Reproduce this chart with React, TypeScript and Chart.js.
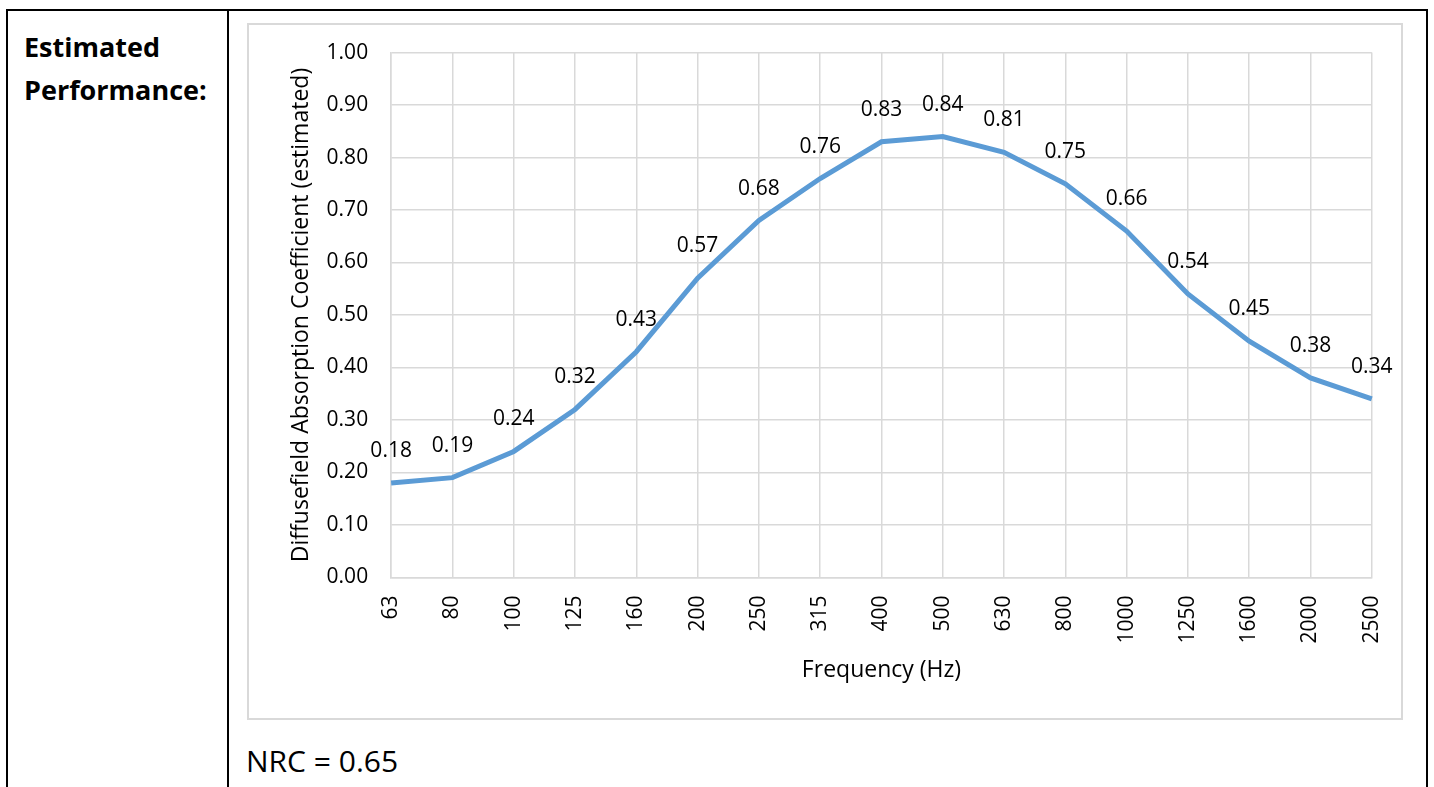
import React, { useEffect, useRef } from "react";
import { Chart, registerables } from "chart.js";

Chart.register(...registerables);

const frequencies = ["63", "80", "100", "125", "160", "200", "250", "315", "400", "500", "630", "800", "1000", "1250", "1600", "2000", "2500"];
const absorption = [0.18, 0.19, 0.24, 0.32, 0.43, 0.57, 0.68, 0.76, 0.83, 0.84, 0.81, 0.75, 0.66, 0.54, 0.45, 0.38, 0.34];
const yTitle = "Diffusefield Absorption Coefficient (estimated)";
const xTitle = "Frequency (Hz)";
const nrcText = "NRC = 0.65";

const FONT = "'Open Sans', 'Noto Sans', sans-serif";

const labelPlugin = {
  id: "pointLabels",
  afterDatasetsDraw(chart: any) {
    const ctx = chart.ctx;
    const meta = chart.getDatasetMeta(0);
    ctx.save();
    ctx.font = `21px ${FONT}`;
    ctx.fillStyle = "#000";
    ctx.textAlign = "center";
    ctx.textBaseline = "middle";
    meta.data.forEach((pt: any, i: number) => {
      ctx.fillText(absorption[i].toFixed(2), pt.x, pt.y - 32);
    });
    ctx.restore();
  },
};

export default function App() {
  const ref = useRef<HTMLCanvasElement>(null);
  useEffect(() => {
    if (!ref.current) return;
    const chart = new Chart(ref.current, {
      type: "line",
      data: {
        labels: frequencies,
        datasets: [
          {
            data: absorption,
            borderColor: "#5b9bd5",
            borderWidth: 5,
            pointRadius: 0,
            tension: 0,
            fill: false,
          },
        ],
      },
      options: {
        animation: false,
        responsive: false,
        maintainAspectRatio: false,
        layout: { padding: { left: 39, right: 20, top: 20, bottom: 23 } },
        plugins: { legend: { display: false }, tooltip: { enabled: false } },
        scales: {
          x: {
            offset: false,
            grid: { color: "#d9d9d9", lineWidth: 1.5, drawTicks: false },
            border: { color: "#d9d9d9", width: 1.5 },
            ticks: {
              color: "#000",
              font: { family: FONT, size: 21 },
              minRotation: 90,
              maxRotation: 90,
              padding: 18,
              autoSkip: false,
            },
            title: {
              display: true,
              text: xTitle,
              color: "#000",
              font: { family: FONT, size: 23 },
              padding: { top: -5, bottom: 0 },
            },
          },
          y: {
            min: 0,
            max: 1,
            grid: { color: "#d9d9d9", lineWidth: 1.5, drawTicks: false },
            border: { color: "#d9d9d9", width: 1.5 },
            ticks: {
              stepSize: 0.1,
              color: "#000",
              font: { family: FONT, size: 21 },
              padding: 23,
              callback: (v: any) => Number(v).toFixed(2),
            },
            title: {
              display: true,
              text: yTitle,
              color: "#000",
              font: { family: FONT, size: 23 },
              padding: { top: 0, bottom: -12 },
            },
          },
        },
      },
      plugins: [labelPlugin],
    });
    return () => chart.destroy();
  }, []);

  const line = (style: React.CSSProperties) => (
    <div style={{ position: "absolute", background: "#000", ...style }} />
  );

  return (
    <div style={{ position: "absolute", left: 0, top: 0, width: 1434, height: 787, overflow: "hidden", fontFamily: FONT }}>
      {line({ left: 6, top: 9, width: 1422, height: 2 })}
      {line({ left: 6, top: 9, width: 2, height: 790 })}
      {line({ left: 227, top: 9, width: 2, height: 790 })}
      {line({ left: 1426, top: 9, width: 2, height: 790 })}
      <div style={{ position: "absolute", left: 24, top: 25, fontWeight: 700, fontSize: 27, lineHeight: "43px", color: "#000" }}>
        Estimated
        <br />
        Performance:
      </div>
      <div style={{ position: "absolute", left: 247, top: 23, width: 1152, height: 693, border: "2px solid #d9d9d9" }} />
      <canvas
        ref={ref}
        width={1166}
        height={690}
        style={{ position: "absolute", left: 249, top: 17, display: "block", width: 1166, height: 690 }}
      />
      <div style={{ position: "absolute", left: 246, top: 740, fontSize: 30, color: "#000", lineHeight: "42px" }}>{nrcText}</div>
    </div>
  );
}
